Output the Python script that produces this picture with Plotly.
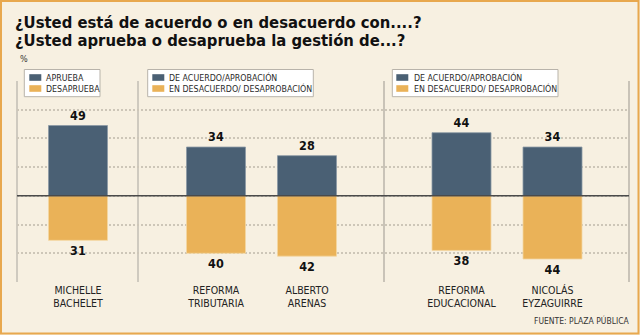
import plotly.graph_objects as go

# ---------------- data ----------------
categories = ["MICHELLE<br>BACHELET", "REFORMA<br>TRIBUTARIA", "ALBERTO<br>ARENAS",
              "REFORMA<br>EDUCACIONAL", "NICOLÁS<br>EYZAGUIRRE"]
approve = [49, 34, 28, 44, 34]
disapprove = [31, 40, 42, 38, 44]
legend1_labels = ["APRUEBA", "DESAPRUEBA"]
legend2_labels = ["DE ACUERDO/APROBACIÓN", "EN DESACUERDO/ DESAPROBACIÓN"]
title_lines = ["¿Usted está de acuerdo o en desacuerdo con....?",
               "¿Usted aprueba o desaprueba la gestión de...?"]
source_text = "FUENTE: PLAZA PÚBLICA"
y_ticks = [-60, -40, -20, 0, 20, 40, 60, 80]

# ---------------- layout constants ----------------
W, H = 640, 335
L, R, T, B = 17, 11, 81, 53
PW, PH = W - L - R, H - T - B
x_pos = [61, 199, 290, 444.5, 535.5]      # bar centres along x axis (px units)
bar_w = 59

DARK = "#4a6074"
ORANGE = "#eab258"
BG = "#f7f0e1"
BORDER = "#e8a84e"
FONT_C = "DejaVu Sans Condensed"


def X(px):
    return (px - L) / PW


def Y(py):
    return (H - B - py) / PH


fig = go.Figure()
fig.add_trace(go.Bar(
    x=x_pos, y=approve, width=bar_w, marker=dict(color=DARK, line=dict(color="#8c99a4", width=0.8)),
    text=[str(v) for v in approve], textposition="outside", cliponaxis=False,
    textfont=dict(family=FONT_C, size=12.5, color="#111111", weight="bold"),
    name=legend1_labels[0], showlegend=False))
fig.add_trace(go.Bar(
    x=x_pos, y=[-v for v in disapprove], width=bar_w,
    marker=dict(color=ORANGE, line=dict(color="#f4d7a2", width=0.8)),
    text=[str(v) for v in disapprove], textposition="outside", cliponaxis=False,
    textfont=dict(family=FONT_C, size=12.5, color="#111111", weight="bold"),
    name=legend1_labels[1], showlegend=False))

shapes = []
# outer orange frame
shapes.append(dict(type="rect", xref="paper", yref="paper",
                   x0=X(1), x1=X(638.5), y0=Y(1), y1=Y(333.5),
                   line=dict(color=BORDER, width=2), fillcolor="rgba(0,0,0,0)", layer="above"))
# vertical group separators
for px, col, w in [(17, "#cfcabf", 2), (138, "#cfcabf", 2), (384, "#aaa59c", 1.2), (629, "#aaa59c", 1.2)]:
    shapes.append(dict(type="line", xref="paper", yref="y", x0=X(px), x1=X(px), y0=-60, y1=80,
                       line=dict(color=col, width=w), layer="below"))
# zero line above bars
shapes.append(dict(type="line", xref="paper", yref="y", x0=0, x1=1, y0=0, y1=0,
                   line=dict(color="#4a4a4a", width=1.5), layer="above"))

annotations = []
# legend boxes
legend_boxes = [
    (24.3, 100.0, 29.3, 44.3, legend1_labels),
    (147.7, 313.3, 152.3, 166.7, legend2_labels),
    (392.3, 558.0, 396.3, 411.7, legend2_labels),
]
for bx0, bx1, sx, tx, labels in legend_boxes:
    shapes.append(dict(type="rect", xref="paper", yref="paper", x0=X(bx0), x1=X(bx1),
                       y0=Y(69.5), y1=Y(96.7), line=dict(color="#b8b3aa", width=1),
                       fillcolor="white", layer="above"))
    for i, (lab, col) in enumerate(zip(labels, [DARK, ORANGE])):
        cy = 77.5 + i * 11
        shapes.append(dict(type="rect", xref="paper", yref="paper", x0=X(sx), x1=X(sx + 12),
                           y0=Y(cy - 3.3), y1=Y(cy + 3.3), line=dict(width=0),
                           fillcolor=col, layer="above"))
        annotations.append(dict(text=lab, xref="paper", yref="paper", x=X(tx), y=Y(cy + 0.3),
                                xanchor="left", yanchor="middle", showarrow=False,
                                font=dict(family=FONT_C, size=8.8, color="#2a2a2a")))

# title
for i, line in enumerate(title_lines):
    annotations.append(dict(text=line, xref="paper", yref="paper", x=X(13), y=Y(22.3 + i * 18.5),
                            xanchor="left", yanchor="middle", showarrow=False,
                            font=dict(family=FONT_C, size=16.5, color="#111111", weight="bold")))
# percent sign
annotations.append(dict(text="%", xref="paper", yref="paper", x=X(17.5), y=Y(58.5),
                        xanchor="left", yanchor="middle", showarrow=False,
                        font=dict(family=FONT_C, size=9, color="#333333")))
# source
annotations.append(dict(text=source_text, xref="paper", yref="paper", x=X(632), y=Y(320),
                        xanchor="right", yanchor="middle", showarrow=False,
                        font=dict(family=FONT_C, size=8.5, color="#333333")))

fig.update_layout(
    width=W, height=H, margin=dict(l=L, r=R, t=T, b=B, pad=0),
    paper_bgcolor=BG, plot_bgcolor=BG, barmode="overlay", showlegend=False,
    shapes=shapes, annotations=annotations,
    xaxis=dict(range=[0, PW], tickvals=x_pos, ticktext=categories, showgrid=False,
               zeroline=False, showline=False, ticks="", fixedrange=True,
               tickfont=dict(family=FONT_C, size=10.5, color="#222222")),
    yaxis=dict(range=[-60, 80], tickvals=y_ticks, showticklabels=False, showgrid=True,
               gridcolor="#cdc6b8", gridwidth=1.5, griddash="2px,2px", zeroline=False,
               showline=False, ticks="", fixedrange=True),
)

fig.write_html("out.html")
